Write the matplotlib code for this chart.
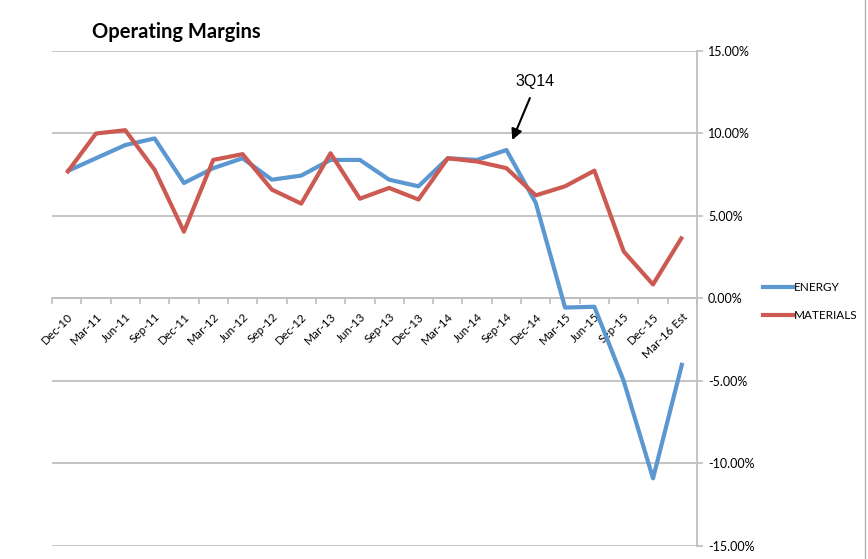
import matplotlib
matplotlib.use("Agg")
import matplotlib.pyplot as plt
from matplotlib.lines import Line2D
from matplotlib.ticker import FixedLocator, FuncFormatter

# quarters on the x axis
quarters = ["Dec-10", "Mar-11", "Jun-11", "Sep-11", "Dec-11", "Mar-12", "Jun-12",
            "Sep-12", "Dec-12", "Mar-13", "Jun-13", "Sep-13", "Dec-13", "Mar-14",
            "Jun-14", "Sep-14", "Dec-14", "Mar-15", "Jun-15", "Sep-15", "Dec-15",
            "Mar-16 Est"]

# operating margins, in percent
energy = [7.7, 8.5, 9.3, 9.7, 7.0, 7.9, 8.5, 7.2, 7.45, 8.4, 8.4, 7.2, 6.8, 8.5,
          8.4, 9.0, 5.8, -0.55, -0.5, -5.0, -10.9, -3.9]
materials = [7.6, 10.0, 10.2, 7.8, 4.05, 8.4, 8.75, 6.6, 5.75, 8.8, 6.05, 6.7, 6.0,
             8.5, 8.3, 7.9, 6.25, 6.8, 7.75, 2.85, 0.85, 3.75]

y_ticks = [-15, -10, -5, 0, 5, 10, 15]

blue = "#5b97d0"
red = "#cc5a52"
grid_gray = "#bfbfbf"

plt.rcParams['font.family'] = ['Lato', 'DejaVu Sans']

fig = plt.figure(figsize=(8.68, 5.59), dpi=100)
ax = fig.add_axes([52 / 868, 1 - 546 / 559, (697 - 52) / 868, (546 - 51) / 559])

x = list(range(len(quarters)))
ax.plot(x, energy, color=blue, lw=3, label="ENERGY", solid_capstyle="butt", zorder=3)
ax.plot(x, materials, color=red, lw=3, label="MATERIALS", solid_capstyle="butt", zorder=3)

ax.set_xlim(-0.5, len(quarters) - 0.5)
ax.set_ylim(-15, 15)

# y axis on the right with percent labels
ax.yaxis.tick_right()
ax.set_yticks(y_ticks)
ax.yaxis.set_major_formatter(FuncFormatter(lambda v, p: f"{v:.2f}%"))
ax.tick_params(axis="y", length=4, width=1.2, color=grid_gray, labelsize=9, pad=4)
ax.grid(axis="y", color=grid_gray, lw=1.3, zorder=0)

for side in ["top", "left"]:
    ax.spines[side].set_visible(False)
ax.spines["right"].set_color(grid_gray)
ax.spines["right"].set_linewidth(1.3)
ax.spines["bottom"].set_position(("data", 0))
ax.spines["bottom"].set_color(grid_gray)
ax.spines["bottom"].set_linewidth(1.3)

# category labels at centres, tick marks between categories
ax.set_xticks(x)
ax.set_xticklabels(quarters, rotation=45, ha="right", va="top", rotation_mode="anchor",
                   fontsize=8.5)
ax.xaxis.set_minor_locator(FixedLocator([i - 0.5 for i in range(len(quarters) + 1)]))
ax.tick_params(axis="x", which="major", length=0, pad=9)
ax.tick_params(axis="x", which="minor", length=4, width=1.2, color=grid_gray)

# callout for the last good quarter
ax.text(15.97, 13.15, "3Q14", ha="center", va="center", fontsize=11.5,
        family="Liberation Sans")
ax.annotate("", xy=(15.2, 9.6), xytext=(15.8, 12.15),
            arrowprops=dict(arrowstyle="-|>", color="black", lw=1.5,
                            mutation_scale=16, shrinkA=0, shrinkB=0))

fig.text(92 / 868, 1 - 32 / 559, "Operating Margins", fontsize=14.5, fontweight="bold",
         va="center", ha="left")

fig.legend(handles=[Line2D([0], [0], color=blue, lw=3), Line2D([0], [0], color=red, lw=3)],
           labels=["ENERGY", "MATERIALS"], loc="upper left",
           bbox_to_anchor=(758 / 868, 1 - 277 / 559), frameon=False, fontsize=8.5,
           handlelength=2.6, handletextpad=0.05, labelspacing=1.45, borderaxespad=0)

# thin chart frame edge on the right
fig.add_artist(Line2D([865 / 868, 865 / 868], [0, 1], color="#b0b0b0", lw=1,
                      transform=fig.transFigure))

fig.savefig("out.png", dpi=100)
